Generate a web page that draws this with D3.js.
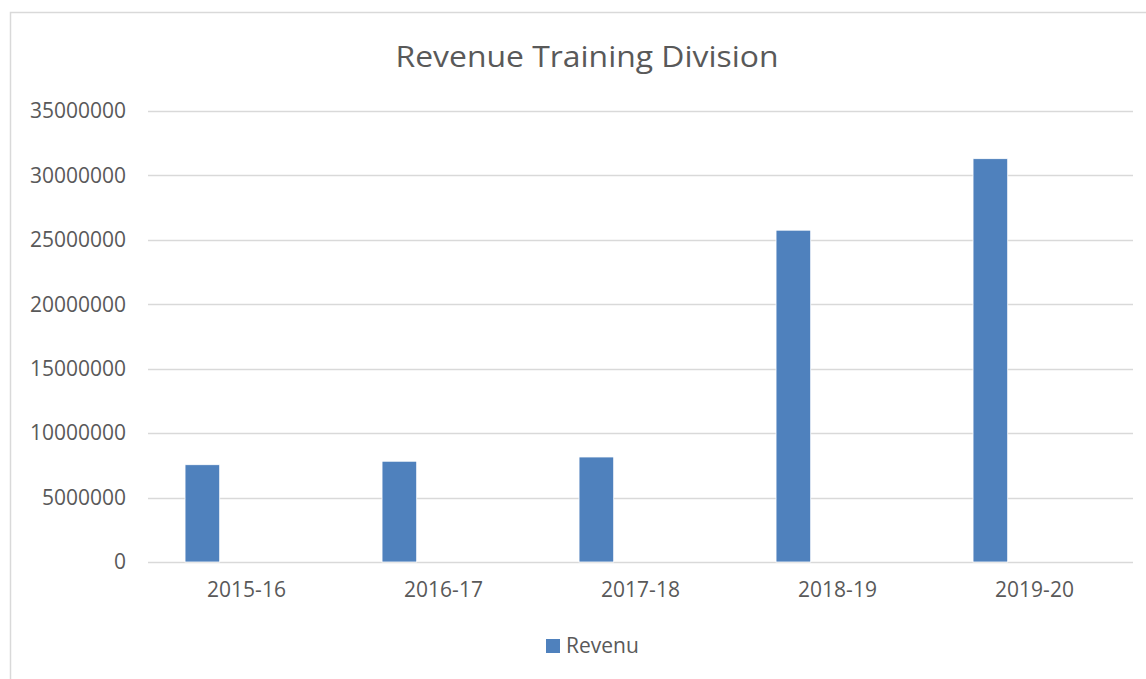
<!doctype html>
<html>
  <head>
    <meta charset="utf-8">
    <title>Revenue Training Division</title>
    <style>
      body { margin: 0; background: #fff; }
      svg { display: block; }
      text { font-family: "Open Sans", "Noto Sans", sans-serif; fill: #595959; }
    </style>
  </head>
  <body>
    <div id="chart"></div>
    <script src="https://cdn.jsdelivr.net/npm/d3@7"></script>
    <script>
      // data
      var categories = ['2015-16', '2016-17', '2017-18', '2018-19', '2019-20'];
      var revenue = [7550000, 7820000, 8150000, 25750000, 31300000];
      var seriesName = 'Revenu';
      var yTicks = [0, 5000000, 10000000, 15000000, 20000000, 25000000, 30000000, 35000000];

      var width = 1146, height = 679;
      var margin = {left: 148, right: 13, top: 111, bottom: 117};

      var svg = d3.select('#chart').append('svg')
        .attr('width', width)
        .attr('height', height);

      // chart frame (only left and top edges are visible in the crop)
      svg.append('rect')
        .attr('x', 10.5).attr('y', 12.5)
        .attr('width', width + 20).attr('height', height + 20)
        .attr('fill', 'none')
        .attr('stroke', '#d9d9d9')
        .attr('stroke-width', 1.5);

      var x = d3.scaleBand()
        .domain(categories)
        .range([margin.left, width - margin.right]);

      var y = d3.scaleLinear()
        .domain([0, 35000000])
        .range([height - margin.bottom, margin.top]);

      // gridlines
      svg.append('g')
        .selectAll('line')
        .data(yTicks)
        .enter()
        .append('line')
        .attr('x1', margin.left)
        .attr('x2', width - margin.right)
        .attr('y1', function(d) { return Math.round(y(d)) + 0.5; })
        .attr('y2', function(d) { return Math.round(y(d)) + 0.5; })
        .attr('stroke', '#d9d9d9')
        .attr('stroke-width', 1.5);

      // y axis labels
      var yAxis = d3.axisLeft(y).tickValues(yTicks).tickSize(0).tickPadding(22)
        .tickFormat(d3.format('d'));
      var gy = svg.append('g')
        .attr('transform', 'translate(' + margin.left + ',0)')
        .call(yAxis);
      gy.select('.domain').remove();
      gy.selectAll('text')
        .attr('font-size', 21)
        .attr('fill', '#595959')
        .style('font-family', '"Open Sans", sans-serif');

      // x axis labels
      var xAxis = d3.axisBottom(x).tickSize(0).tickPadding(20);
      var gx = svg.append('g')
        .attr('transform', 'translate(0,' + (height - margin.bottom) + ')')
        .call(xAxis);
      gx.select('.domain').remove();
      gx.selectAll('text')
        .attr('font-size', 21)
        .attr('fill', '#595959')
        .style('font-family', '"Open Sans", sans-serif');

      // bars (sit in the left part of each band, as in the source sheet)
      var bw = x.bandwidth();
      svg.append('g')
        .selectAll('rect')
        .data(revenue)
        .enter()
        .append('rect')
        .attr('x', function(d, i) { return x(categories[i]) + bw * 0.188; })
        .attr('width', bw * 0.176)
        .attr('y', function(d) { return y(d); })
        .attr('height', function(d) { return y(0) - y(d); })
        .attr('fill', '#4f81bd')
        .attr('stroke', '#ffffff')
        .attr('stroke-width', 0.8);

      // title
      svg.append('text')
        .attr('x', 587)
        .attr('y', 67)
        .attr('text-anchor', 'middle')
        .attr('font-size', 30)
        .attr('textLength', 383)
        .attr('lengthAdjust', 'spacingAndGlyphs')
        .text('Revenue Training Division');

      // legend
      var legend = svg.append('g').attr('transform', 'translate(546,639)');
      legend.append('rect')
        .attr('width', 14).attr('height', 14)
        .attr('fill', '#4f81bd');
      legend.append('text')
        .attr('x', 20).attr('y', 14)
        .attr('font-size', 21)
        .text(seriesName);
    </script>
  </body>
</html>
